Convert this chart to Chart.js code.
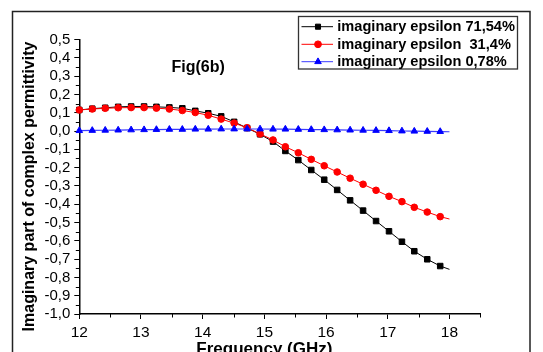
<!DOCTYPE html>
<html>
<head>
<meta charset="utf-8">
<script src="https://cdn.jsdelivr.net/npm/chart.js@4.4.1/dist/chart.umd.min.js"></script>
<style>
  html, body { margin: 0; padding: 0; background: #fff; }
  canvas { display: block; }
</style>
</head>
<body>
<canvas id="myChart" width="543" height="352"></canvas>
<script>
// frequency (GHz) of each marker, last entry is the line end (no marker)
const freqGHz = [
  12.00, 12.21, 12.42, 12.63, 12.84, 13.05, 13.25, 13.46, 13.67, 13.88,
  14.09, 14.30, 14.51, 14.72, 14.93, 15.14, 15.34, 15.55, 15.76, 15.97,
  16.18, 16.39, 16.60, 16.81, 17.02, 17.23, 17.43, 17.64, 17.85, 18.00,
];
const eps7154 = [
  0.115, 0.122, 0.127, 0.132, 0.134, 0.134, 0.132, 0.129, 0.124, 0.110,
  0.097, 0.080, 0.050, 0.016, -0.018, -0.058, -0.109, -0.159, -0.213, -0.266,
  -0.322, -0.379, -0.435, -0.492, -0.548, -0.605, -0.657, -0.701, -0.738, -0.756,
];
const eps314 = [
  0.115, 0.120, 0.124, 0.127, 0.128, 0.128, 0.125, 0.120, 0.112, 0.101,
  0.086, 0.065, 0.043, 0.018, -0.016, -0.049, -0.086, -0.119, -0.155, -0.190,
  -0.224, -0.258, -0.291, -0.324, -0.357, -0.386, -0.417, -0.443, -0.468, -0.481,
];
const eps078 = [
  0.002, 0.003, 0.004, 0.005, 0.006, 0.007, 0.008, 0.009, 0.009, 0.010,
  0.010, 0.011, 0.011, 0.011, 0.011, 0.010, 0.010, 0.009, 0.008, 0.007,
  0.006, 0.005, 0.004, 0.003, 0.002, 0.000, -0.001, -0.002, -0.003, -0.004,
];
const seriesLabels = [
  "imaginary epsilon 71,54%",
  "imaginary epsilon  31,4%",
  "imaginary epsilon 0,78%",
];
const xMinorTicks = [12.5, 13.5, 14.5, 15.5, 16.5, 17.5, 18.5];
const yMinorTicks = [-0.95, -0.85, -0.75, -0.65, -0.55, -0.45, -0.35, -0.25, -0.15, -0.05,
  0.05, 0.15, 0.25, 0.35, 0.45];

const FONT = "Arial, 'Liberation Sans', sans-serif";
Chart.defaults.font.family = FONT;
Chart.defaults.font.size = 15;
Chart.defaults.color = "#000";

const toPoints = (vals) => vals.map((v, i) => ({ x: freqGHz[i], y: v }));
const lastIdx = freqGHz.length - 1;

//frame, minor ticks, titles and legend box
const decorations = {
  id: "decorations",
  beforeDraw(chart) {
    const ctx = chart.ctx;
    ctx.save();
    ctx.fillStyle = "#fff";
    ctx.fillRect(0, 0, chart.width, chart.height);
    ctx.strokeStyle = "#222";
    ctx.lineWidth = 1.5;
    ctx.strokeRect(12.5, 11.5, 517.5, 360);
    ctx.restore();
  },
  afterDraw(chart) {
    const ctx = chart.ctx;
    const xs = chart.scales.x;
    const ys = chart.scales.y;
    const area = chart.chartArea;
    ctx.save();
    ctx.strokeStyle = "#000";
    ctx.lineWidth = 1;
    ctx.beginPath();
    xMinorTicks.forEach((v) => {
      const px = Math.round(xs.getPixelForValue(v)) + 0.5;
      ctx.moveTo(px, area.bottom);
      ctx.lineTo(px, area.bottom + 3.5);
    });
    yMinorTicks.forEach((v) => {
      const py = Math.round(ys.getPixelForValue(v)) + 0.5;
      ctx.moveTo(area.left, py);
      ctx.lineTo(area.left - 3.5, py);
    });
    ctx.stroke();

    ctx.fillStyle = "#000";
    // y title
    ctx.save();
    ctx.font = "bold 16px " + FONT;
    ctx.translate(33.5, 186.5);
    ctx.rotate(-Math.PI / 2);
    ctx.textAlign = "center";
    ctx.textBaseline = "alphabetic";
    ctx.fillText("Imaginary part of complex permittivity", 0, 0);
    ctx.restore();
    // x title
    ctx.font = "bold 17px " + FONT;
    ctx.textAlign = "center";
    ctx.textBaseline = "alphabetic";
    ctx.fillText("Frequency (GHz)", xs.getPixelForValue(15), 354);
    // figure label
    ctx.font = "bold 16px " + FONT;
    ctx.textAlign = "left";
    ctx.fillText("Fig(6b)", 171.5, 71.5);

    // legend
    ctx.strokeStyle = "#333";
    ctx.lineWidth = 1.3;
    ctx.strokeRect(298.5, 16.5, 219, 52.5);
    const rows = [26.7, 44.3, 61.7];
    chart.data.datasets.forEach((ds, r) => {
      const y = rows[r];
      ctx.strokeStyle = ds.borderColor;
      ctx.lineWidth = 1;
      ctx.beginPath();
      ctx.moveTo(301.5, y);
      ctx.lineTo(333, y);
      ctx.stroke();
      ctx.fillStyle = ds.legendFill;
      ctx.strokeStyle = ds.legendFill;
      Chart.helpers.drawPoint(ctx, {
        pointStyle: ds.pointStyle,
        radius: ds.legendRadius,
        rotation: 0,
        borderWidth: 1,
      }, 318, y);
      ctx.fillStyle = "#000";
      ctx.font = "bold 14.6px " + FONT;
      ctx.textAlign = "left";
      ctx.textBaseline = "middle";
      ctx.fillText(ds.label, 337.3, y + 0.5);
    });
    ctx.restore();
  },
};

const myChart = new Chart(document.getElementById("myChart"), {
  type: "line",
  data: {
    datasets: [
      {
        label: seriesLabels[0],
        data: toPoints(eps7154),
        borderColor: "#000",
        borderWidth: 1,
        pointStyle: "rect",
        pointRadius: (c) => (c.dataIndex === lastIdx ? 0 : 3.9),
        pointBackgroundColor: (c) => (c.dataIndex === 0 ? "#fff" : "#000"),
        pointBorderColor: "#000",
        pointBorderWidth: 1,
        legendFill: "#000",
        legendRadius: 3.6,
        order: 2,
        clip: 8,
      },
      {
        label: seriesLabels[1],
        data: toPoints(eps314),
        borderColor: "#ff0000",
        borderWidth: 1,
        pointStyle: "circle",
        pointRadius: (c) => (c.dataIndex === lastIdx ? 0 : 3.3),
        pointBackgroundColor: "#ff0000",
        pointBorderColor: "#ff0000",
        pointBorderWidth: 1,
        legendFill: "#ff0000",
        legendRadius: 3.4,
        order: 1,
        clip: 8,
      },
      {
        label: seriesLabels[2],
        data: toPoints(eps078),
        borderColor: "#3a3aff",
        borderWidth: 1.2,
        pointStyle: "triangle",
        pointRadius: (c) => (c.dataIndex === lastIdx ? 0 : 3.8),
        pointBackgroundColor: "#0000ff",
        pointBorderColor: "#0000ff",
        pointBorderWidth: 1,
        legendFill: "#0000ff",
        legendRadius: 3.8,
        order: 0,
        clip: 8,
      },
    ],
  },
  options: {
    responsive: false,
    animation: false,
    devicePixelRatio: 1,
    layout: { padding: { top: 39.5, right: 62.7, bottom: 0, left: 0 } },
    plugins: {
      legend: { display: false },
      tooltip: { enabled: false },
    },
    elements: { line: { tension: 0 } },
    scales: {
      x: {
        type: "linear",
        min: 12,
        max: 18.5,
        afterFit: (scale) => { scale.height = 38; },
        ticks: {
          stepSize: 1,
          padding: 4,
          autoSkip: false,
          includeBounds: false,
          maxRotation: 0,
          font: { size: 15.5 },
          callback: (v) => (Number.isInteger(v) ? String(v) : ""),
        },
        grid: {
          display: true,
          drawOnChartArea: false,
          drawTicks: true,
          tickLength: 5,
          tickColor: "#000",
          tickWidth: 1,
        },
        border: { display: true, color: "#000", width: 1.5 },
        title: { display: false },
      },
      y: {
        min: -1,
        max: 0.5,
        afterFit: (scale) => { scale.width = 79.3; },
        ticks: {
          stepSize: 0.1,
          padding: 4,
          autoSkip: false,
          font: { size: 15 },
          callback: (v) => {
            if (Math.abs(v) < 1e-9) return "0,0";
            return v.toFixed(1).replace(".", ",");
          },
        },
        grid: {
          display: true,
          drawOnChartArea: false,
          drawTicks: true,
          tickLength: 5,
          tickColor: "#000",
          tickWidth: 1,
        },
        border: { display: true, color: "#000", width: 1.5 },
        title: { display: false },
      },
    },
  },
  plugins: [decorations],
});
</script>
</body>
</html>
